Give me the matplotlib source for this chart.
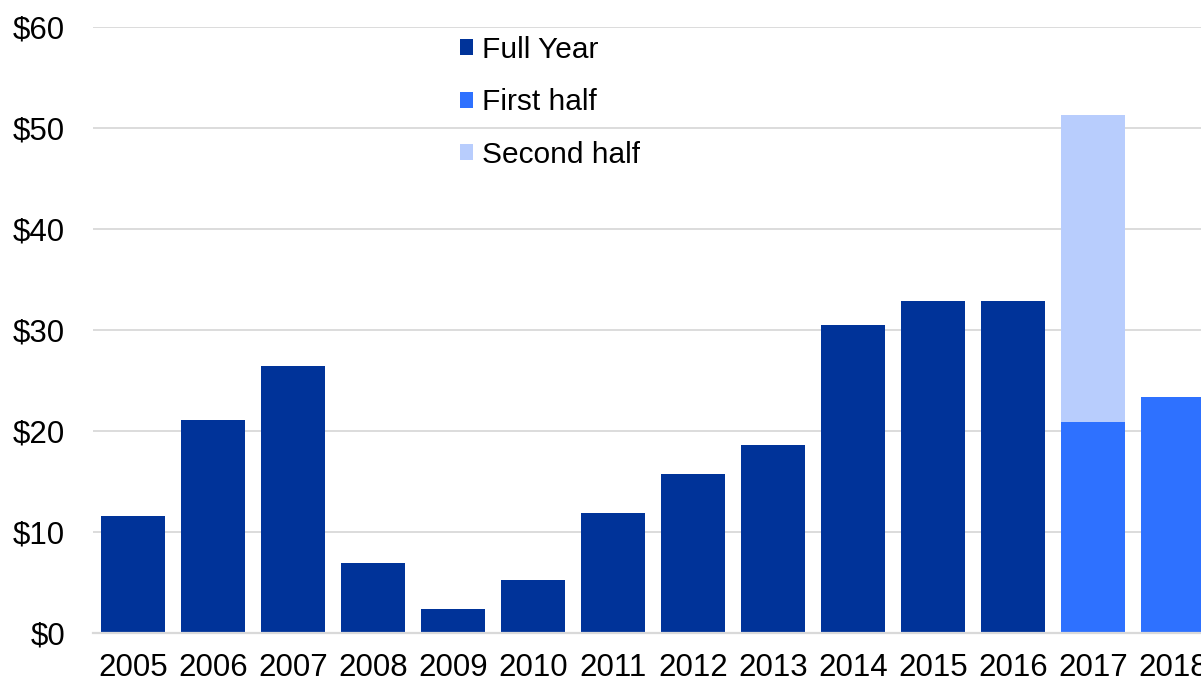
import matplotlib
matplotlib.use("Agg")
import matplotlib.pyplot as plt
import numpy as np

plt.rcParams['font.family'] = ['Liberation Sans', 'DejaVu Sans']

years = ["2005", "2006", "2007", "2008", "2009", "2010", "2011", "2012",
         "2013", "2014", "2015", "2016", "2017", "2018"]
full_year = [11.6, 21.1, 26.5, 7.0, 2.4, 5.3, 11.9, 15.8, 18.6, 30.5, 32.9, 32.9, 0, 0]
first_half = [0, 0, 0, 0, 0, 0, 0, 0, 0, 0, 0, 0, 20.9, 23.4]
second_half = [0, 0, 0, 0, 0, 0, 0, 0, 0, 0, 0, 0, 30.4, 0]
yticks = [0, 10, 20, 30, 40, 50, 60]
ytick_labels = ["$0", "$10", "$20", "$30", "$40", "$50", "$60"]

c_full = "#003399"
c_first = "#2E71FF"
c_second = "#B8CDFD"
grid_c = "#D9D9D9"

W, H = 1201, 684
fig = plt.figure(figsize=(W / 100, H / 100), dpi=100)
left = 93 / W
bottom = 1 - 633.3 / H
top = 1 - 27 / H
width = 1120 / W
ax = fig.add_axes([left, bottom, width, top - bottom])

x = np.arange(len(years))
fy = np.array(full_year)
fh = np.array(first_half)
sh = np.array(second_half)
ax.bar(x, fy, width=0.8, color=c_full, label="Full Year", zorder=3)
ax.bar(x, fh, width=0.8, color=c_first, label="First half", zorder=3)
ax.bar(x, sh, width=0.8, bottom=fh, color=c_second, label="Second half", zorder=3)

ax.set_xlim(-0.5, len(years) - 0.5)
ax.set_ylim(0, 60)
ax.set_yticks(yticks)
ax.set_yticklabels(ytick_labels)
ax.set_xticks(x)
ax.set_xticklabels(years)
ax.tick_params(axis='both', length=0, labelsize=22.5, colors='black')
ax.tick_params(axis='y', pad=20)
ax.tick_params(axis='x', pad=14.5)
ax.yaxis.grid(True, color=grid_c, linewidth=1.3, zorder=0)
ax.set_axisbelow(True)
for s in ["top", "right", "left"]:
    ax.spines[s].set_visible(False)
ax.spines["bottom"].set_color(grid_c)
ax.spines["bottom"].set_linewidth(1.6)
ax.spines["bottom"].set_zorder(4)

leg = ax.legend(loc='upper left', bbox_to_anchor=(460 / W, 1 - 36 / H),
                bbox_transform=fig.transFigure, frameon=False,
                fontsize=21.5, handlelength=0.45, handleheight=0.45,
                handletextpad=0.27, labelspacing=0.82, borderpad=0, borderaxespad=0)

fig.savefig("out.png", dpi=100)
